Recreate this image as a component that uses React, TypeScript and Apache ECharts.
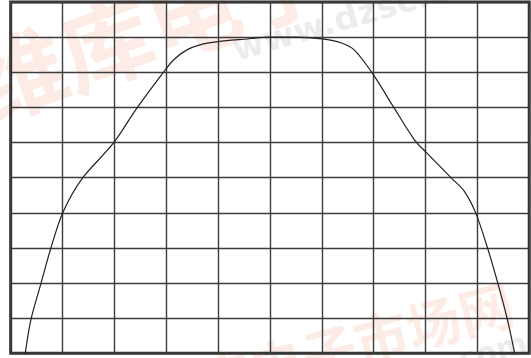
import React, { useEffect, useRef } from "react";
import * as echarts from "echarts";

const xValues = [0.28, 0.39, 0.58, 0.77, 1.0, 1.37, 1.98, 2.43, 2.94, 3.14, 3.39, 3.65, 4.0, 4.5, 5.0, 5.5, 6.0, 6.37, 6.63, 7.0, 7.4, 7.79, 8.0, 8.52, 8.75, 8.97, 9.2, 9.4, 9.58, 9.72];
const yValues = [0, 0.96, 1.97, 2.97, 3.99, 4.96, 5.98, 6.97, 7.99, 8.35, 8.63, 8.78, 8.87, 8.94, 9.0, 9.0, 8.95, 8.84, 8.63, 7.92, 6.97, 6.07, 5.74, 4.96, 4.61, 3.99, 2.98, 1.97, 0.96, 0];
const axisMin = 0;
const axisMax = 10;
const axisInterval = 1;
const watermarkCn = "维库电子市场网";
const watermarkUrl = "www.dzsc.com";

export default function App() {
  const ref = useRef<HTMLDivElement>(null);
  useEffect(() => {
    if (!ref.current) return;
    const chart = echarts.init(ref.current, undefined, { renderer: "svg" });
    const data = xValues.map((x, i) => [x, yValues[i]]);
    const gridLine = { show: true, lineStyle: { color: "#3c3c3c", width: 1.4 } };
    const cnFill = "rgba(240,100,60,0.13)";
    const urlFill = "rgba(110,110,110,0.13)";
    chart.setOption({
      animation: false,
      backgroundColor: "#ffffff",
      graphic: [
        {
          type: "text",
          z: -10,
          x: -10,
          y: 128,
          rotation: 0.34,
          style: {
            text: watermarkCn,
            font: "bold 92px 'Noto Sans CJK SC'",
            fill: cnFill,
            verticalAlign: "bottom",
          },
        },
        {
          type: "text",
          z: -10,
          x: 238,
          y: 66,
          rotation: 0.28,
          style: {
            text: watermarkUrl,
            font: "bold 34px 'DejaVu Sans'",
            fill: urlFill,
            verticalAlign: "bottom",
          },
        },
        {
          type: "text",
          z: -10,
          x: 518,
          y: 326,
          rotation: 0.26,
          style: {
            text: watermarkCn,
            font: "bold 54px 'Noto Sans CJK SC'",
            fill: cnFill,
            align: "right",
            verticalAlign: "bottom",
          },
        },
        {
          type: "text",
          z: -10,
          x: 530,
          y: 356,
          rotation: 0.27,
          style: {
            text: watermarkUrl,
            font: "bold 30px 'DejaVu Sans'",
            fill: urlFill,
            align: "right",
            verticalAlign: "bottom",
          },
        },
      ],
      grid: {
        left: 10.7,
        right: 1.8,
        top: 2,
        bottom: 4.7,
        show: true,
        borderColor: "#333",
        borderWidth: 3,
        backgroundColor: "transparent",
      },
      xAxis: {
        type: "value",
        min: axisMin,
        max: axisMax,
        interval: axisInterval,
        axisLabel: { show: false },
        axisTick: { show: false },
        axisLine: { show: false },
        splitLine: gridLine,
      },
      yAxis: {
        type: "value",
        min: axisMin,
        max: axisMax,
        interval: axisInterval,
        axisLabel: { show: false },
        axisTick: { show: false },
        axisLine: { show: false },
        splitLine: gridLine,
      },
      series: [
        {
          type: "line",
          data,
          smooth: 0.3,
          symbol: "none",
          lineStyle: { color: "#222", width: 1.2 },
        },
      ],
    });
    return () => chart.dispose();
  }, []);
  return (
    <div
      ref={ref}
      style={{ position: "absolute", left: 0, top: 0, width: 531, height: 358 }}
    />
  );
}
